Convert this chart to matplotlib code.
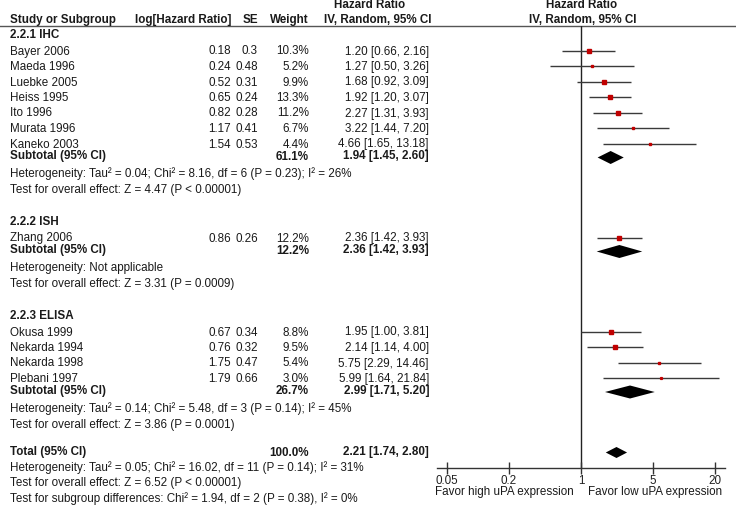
import matplotlib
matplotlib.use("Agg")
import matplotlib.pyplot as plt

plt.rcParams['font.family'] = ['Liberation Sans', 'DejaVu Sans']
FS = 8.4

# ---------------- data ----------------
group_names = ["2.2.1 IHC", "2.2.2 ISH", "2.2.3 ELISA"]

ihc_studies = ["Bayer 2006", "Maeda 1996", "Luebke 2005", "Heiss 1995", "Ito 1996", "Murata 1996", "Kaneko 2003"]
ihc_loghr = [0.18, 0.24, 0.52, 0.65, 0.82, 1.17, 1.54]
ihc_se = [0.3, 0.48, 0.31, 0.24, 0.28, 0.41, 0.53]
ihc_weight = [10.3, 5.2, 9.9, 13.3, 11.2, 6.7, 4.4]
ihc_hr = [1.20, 1.27, 1.68, 1.92, 2.27, 3.22, 4.66]
ihc_lo = [0.66, 0.50, 0.92, 1.20, 1.31, 1.44, 1.65]
ihc_hi = [2.16, 3.26, 3.09, 3.07, 3.93, 7.20, 13.18]

ish_studies = ["Zhang 2006"]
ish_loghr = [0.86]
ish_se = [0.26]
ish_weight = [12.2]
ish_hr = [2.36]
ish_lo = [1.42]
ish_hi = [3.93]

elisa_studies = ["Okusa 1999", "Nekarda 1994", "Nekarda 1998", "Plebani 1997"]
elisa_loghr = [0.67, 0.76, 1.75, 1.79]
elisa_se = [0.34, 0.32, 0.47, 0.66]
elisa_weight = [8.8, 9.5, 5.4, 3.0]
elisa_hr = [1.95, 2.14, 5.75, 5.99]
elisa_lo = [1.00, 1.14, 2.29, 1.64]
elisa_hi = [3.81, 4.00, 14.46, 21.84]

subtotal_weight = [61.1, 12.2, 26.7]
subtotal_hr = [1.94, 2.36, 2.99]
subtotal_lo = [1.45, 1.42, 1.71]
subtotal_hi = [2.60, 3.93, 5.20]

group_heterogeneity = [
    "Heterogeneity: Tau\u00b2 = 0.04; Chi\u00b2 = 8.16, df = 6 (P = 0.23); I\u00b2 = 26%",
    "Heterogeneity: Not applicable",
    "Heterogeneity: Tau\u00b2 = 0.14; Chi\u00b2 = 5.48, df = 3 (P = 0.14); I\u00b2 = 45%",
]
group_overall = [
    "Test for overall effect: Z = 4.47 (P < 0.00001)",
    "Test for overall effect: Z = 3.31 (P = 0.0009)",
    "Test for overall effect: Z = 3.86 (P = 0.0001)",
]

total_weight = 100.0
total_hr = 2.21
total_lo = 1.74
total_hi = 2.80
total_notes = [
    "Heterogeneity: Tau\u00b2 = 0.05; Chi\u00b2 = 16.02, df = 11 (P = 0.14); I\u00b2 = 31%",
    "Test for overall effect: Z = 6.52 (P < 0.00001)",
    "Test for subgroup differences: Chi\u00b2 = 1.94, df = 2 (P = 0.38), I\u00b2 = 0%",
]

tick_values = [0.05, 0.2, 1, 5, 20]
tick_labels = ["0.05", "0.2", "1", "5", "20"]
favor_left = "Favor high uPA expression"
favor_right = "Favor low uPA expression"

groups = [
    (ihc_studies, ihc_loghr, ihc_se, ihc_weight, ihc_hr, ihc_lo, ihc_hi),
    (ish_studies, ish_loghr, ish_se, ish_weight, ish_hr, ish_lo, ish_hi),
    (elisa_studies, elisa_loghr, elisa_se, elisa_weight, elisa_hr, elisa_lo, elisa_hi),
]

# ---------------- layout ----------------
W, H = 736, 507
fig = plt.figure(figsize=(W / 100, H / 100), dpi=100)
tax = fig.add_axes([0, 0, 1, 1])
tax.set_xlim(0, W)
tax.set_ylim(H, 0)
tax.axis('off')

AX_L, AX_R, AX_TOP, AX_BOT = 437, 725, 26, 468
ax = fig.add_axes([AX_L / W, 1 - AX_BOT / H, (AX_R - AX_L) / W, (AX_BOT - AX_TOP) / H])
ax.set_xscale('log')
ax.set_xlim(0.04, 25)
ax.set_ylim(AX_BOT, AX_TOP)
ax.patch.set_alpha(0)
for s in ['top', 'left', 'right']:
    ax.spines[s].set_visible(False)
ax.spines['bottom'].set_color('#333333')
ax.spines['bottom'].set_linewidth(1.0)
ax.set_yticks([])
ax.set_xticks(tick_values)
ax.set_xticklabels(tick_labels)
ax.minorticks_off()
ax.tick_params(axis='x', direction='inout', length=8, width=1, color='#333333',
               labelsize=FS, pad=1.0, labelcolor='#222222')
ax.axvline(1, color='#222222', lw=1.0, zorder=1)

X_LABEL, X_LOG, X_SE, X_W, X_CI = 9.5, 231, 258, 309, 429
TXT = '#1a1a1a'
RED = '#c00000'

def t(x, y, s, ha='left', bold=False):
    tax.text(x, y, s, ha=ha, va='center', fontsize=FS, color=TXT,
             fontweight='bold' if bold else 'normal')

# headers
t(370, 5, "Hazard Ratio", ha='center', bold=True)
t(582, 5, "Hazard Ratio", ha='center', bold=True)
t(X_LABEL, 20, "Study or Subgroup", bold=True)
t(X_LOG, 20, "log[Hazard Ratio]", ha='right', bold=True)
t(X_SE, 20, "SE", ha='right', bold=True)
t(X_W, 20, "Weight", ha='right', bold=True)
t(377.5, 20, "IV, Random, 95% CI", ha='center', bold=True)
t(583, 20, "IV, Random, 95% CI", ha='center', bold=True)
tax.plot([0, W], [26, 26], color='#555555', lw=1.0)

def ci_text(h, l, u):
    return f"{h:.2f} [{l:.2f}, {u:.2f}]"

def diamond(y, h, l, u, half):
    ax.fill([l, h, u, h], [y, y - half, y, y + half], color='black', lw=0, zorder=3)

y = 35
for gi, (names, lhr, se, wt, hr, lo, hi) in enumerate(groups):
    t(X_LABEL, y, group_names[gi], bold=True)
    y += 16.5
    for i in range(len(names)):
        t(X_LABEL, y, names[i])
        t(X_LOG, y, f"{lhr[i]:.2f}", ha='right')
        t(X_SE, y, f"{se[i]:g}", ha='right')
        t(X_W, y, f"{wt[i]:.1f}%", ha='right')
        t(X_CI, y, ci_text(hr[i], lo[i], hi[i]), ha='right')
        ax.plot([lo[i], hi[i]], [y - 1, y - 1], color='#3a3a3a', lw=1.0, zorder=2,
                solid_capstyle='butt')
        ax.plot([hr[i]], [y - 1], marker='s', color=RED, mec=RED, lw=0,
                ms=0.75 * wt[i] ** 0.5, zorder=4)
        if i < len(names) - 1:
            y += 15.5
    y += 12
    t(X_LABEL, y, "Subtotal (95% CI)", bold=True)
    t(X_W, y, f"{subtotal_weight[gi]:.1f}%", ha='right', bold=True)
    t(X_CI, y, ci_text(subtotal_hr[gi], subtotal_lo[gi], subtotal_hi[gi]), ha='right', bold=True)
    diamond(y + 1, subtotal_hr[gi], subtotal_lo[gi], subtotal_hi[gi], 6.5)
    y += 17.5
    t(X_LABEL, y, group_heterogeneity[gi])
    y += 16.5
    t(X_LABEL, y, group_overall[gi])
    y += 31.5

y = 452.5
t(X_LABEL, y, "Total (95% CI)", bold=True)
t(X_W, y, f"{total_weight:.1f}%", ha='right', bold=True)
t(X_CI, y, ci_text(total_hr, total_lo, total_hi), ha='right', bold=True)
diamond(y, total_hr, total_lo, total_hi, 5.5)
for k, s in enumerate(total_notes):
    t(X_LABEL, 468 + 15.3 * k, s)

t(574, 492, favor_left, ha='right')
t(588, 492, favor_right, ha='left')

fig.savefig("out.png", dpi=100)
